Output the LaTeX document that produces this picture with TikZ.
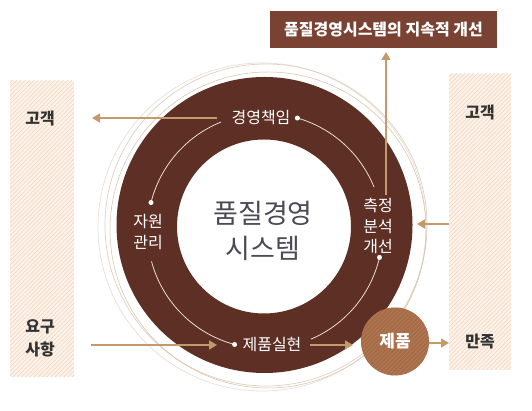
\documentclass[tikz,border=0pt]{standalone}
\usepackage{fontspec}
\newfontfamily\kr{Noto Sans CJK KR}
\usetikzlibrary{arrows.meta,patterns.meta}
\definecolor{ringbrown}{HTML}{5E3025}
\definecolor{boxbrown}{HTML}{7A4233}
\definecolor{prodbrown}{HTML}{A66C48}
\definecolor{prodline}{HTML}{B57D5A}
\definecolor{tan}{HTML}{C49A6A}
\definecolor{panelbg}{HTML}{FDF3EA}
\definecolor{panelline}{HTML}{F1D9C2}
\definecolor{darktext}{HTML}{333333}
\definecolor{centertext}{HTML}{4A4A56}
\definecolor{arcline}{HTML}{EADBD0}
\definecolor{ringA}{HTML}{E3CFBE}
\definecolor{ringB}{HTML}{E6E0DA}
\definecolor{ringC}{HTML}{D8BFA8}
\tikzset{
  panel/.style={fill=panelbg,postaction={pattern={Lines[angle=45,distance=3pt,line width=0.7pt]},pattern color=panelline}},
  paneltext/.style={font=\kr\bfseries\fontsize{16}{23}\selectfont,text=darktext,align=center,inner sep=0pt},
  label/.style={font=\kr\fontsize{16}{20.5}\selectfont,text=white,align=center,inner sep=0pt},
  arr/.style={draw=tan,line width=1.6pt,-{Triangle[length=8pt,width=9pt]}},
  arcpath/.style={draw=arcline,line width=0.8pt},
  dotmark/.style={circle,fill=white,inner sep=0pt,minimum size=5pt},
}
\begin{document}
\begin{tikzpicture}[x=1pt,y=1pt]
\useasboundingbox (0,0) rectangle (532,411);
\fill[white] (0,0) rectangle (532,411);

% side panels
\path[panel] (10,34) rectangle (74,330);
\path[panel] (449,41) rectangle (511,337);
\node[paneltext] (lcust) at (40,292) {고객};
\node[paneltext] (lreq) at (40,73) {요구\\사항};
\node[paneltext] (rcust) at (480,298) {고객};
\node[paneltext] (rsat) at (480,69) {만족};

% top box
\node[fill=boxbrown,minimum width=227pt,minimum height=37pt,inner sep=0pt,
  font=\kr\bfseries\fontsize{16}{18}\selectfont,text=white] (topbox) at (383.5,381.5) {품질경영시스템의 지속적 개선};

% outer thin rings
\draw[ringB,line width=0.7pt] (262,184) circle[radius=164];
\draw[ringA,line width=0.7pt] (266,186) circle[radius=161];
\draw[ringC,line width=0.5pt] (268,181) circle[radius=158];

% main ring
\fill[ringbrown,even odd rule] (264.5,186) circle[radius=148] (264,184.5) circle[radius=87];

% inner arcs
\coordinate (ac) at (265,180);
\draw[arcpath] ([shift={(74:117.5)}]ac) arc[start angle=74,end angle=22,radius=117.5];
\draw[arcpath] ([shift={(-13:117.5)}]ac) arc[start angle=-13,end angle=-67,radius=117.5];
\draw[arcpath] ([shift={(-105:117.5)}]ac) arc[start angle=-105,end angle=-165,radius=117.5];
\draw[arcpath] ([shift={(166:117.5)}]ac) arc[start angle=166,end angle=112,radius=117.5];
\node[dotmark] (d1) at ([shift={(74:117.5)}]ac) {};
\node[dotmark] (d2) at ([shift={(-13:117.5)}]ac) {};
\node[dotmark] (d3) at ([shift={(-105:117.5)}]ac) {};
\node[dotmark] (d4) at ([shift={(166:117.5)}]ac) {};

% labels
\node[label] (mgmt) at (261,293) {경영책임};
\node[label] (meas) at (378,185) {측정\\분석\\개선};
\node[label] (real) at (272,66) {제품실현};
\node[label] (res) at (148,179) {자원\\관리};

% center text
\node[font=\kr\fontsize{27}{35}\selectfont,text=centertext,align=center,inner sep=0pt] (center) at (263,180.5) {품질경영\\시스템};

% product circle
\node[circle,minimum size=68pt,inner sep=0pt,fill=prodbrown,
  postaction={pattern={Lines[angle=45,distance=3pt,line width=0.6pt]},pattern color=prodline},
  font=\kr\bfseries\fontsize{17}{19}\selectfont,text=white] (prod) at (395,69.5) {제품};

% connectors
\coordinate (mgmtL) at (217,293);
\coordinate (lcustR) at (92,293);
\coordinate (reqR) at (91,66);
\coordinate (realL) at (217,66);
\coordinate (realR) at (310,66);
\coordinate (prodL) at (353,66);
\coordinate (rpanelL) at (449,187);
\coordinate (ringR) at (417,187);
\coordinate (measTop) at (386,216);
\coordinate (boxB) at (386,359);
\coordinate (prodR) at (429,68);
\coordinate (satL) at (449,68);

\draw[arr] (mgmtL) -- (lcustR);
\draw[arr] (reqR) -- (realL);
\draw[arr] (realR) -- (prodL);
\draw[arr] (rpanelL) -- (ringR);
\draw[arr] (measTop) -- (boxB);
\draw[arr] (prodR) -- (satL);
\end{tikzpicture}
\end{document}
